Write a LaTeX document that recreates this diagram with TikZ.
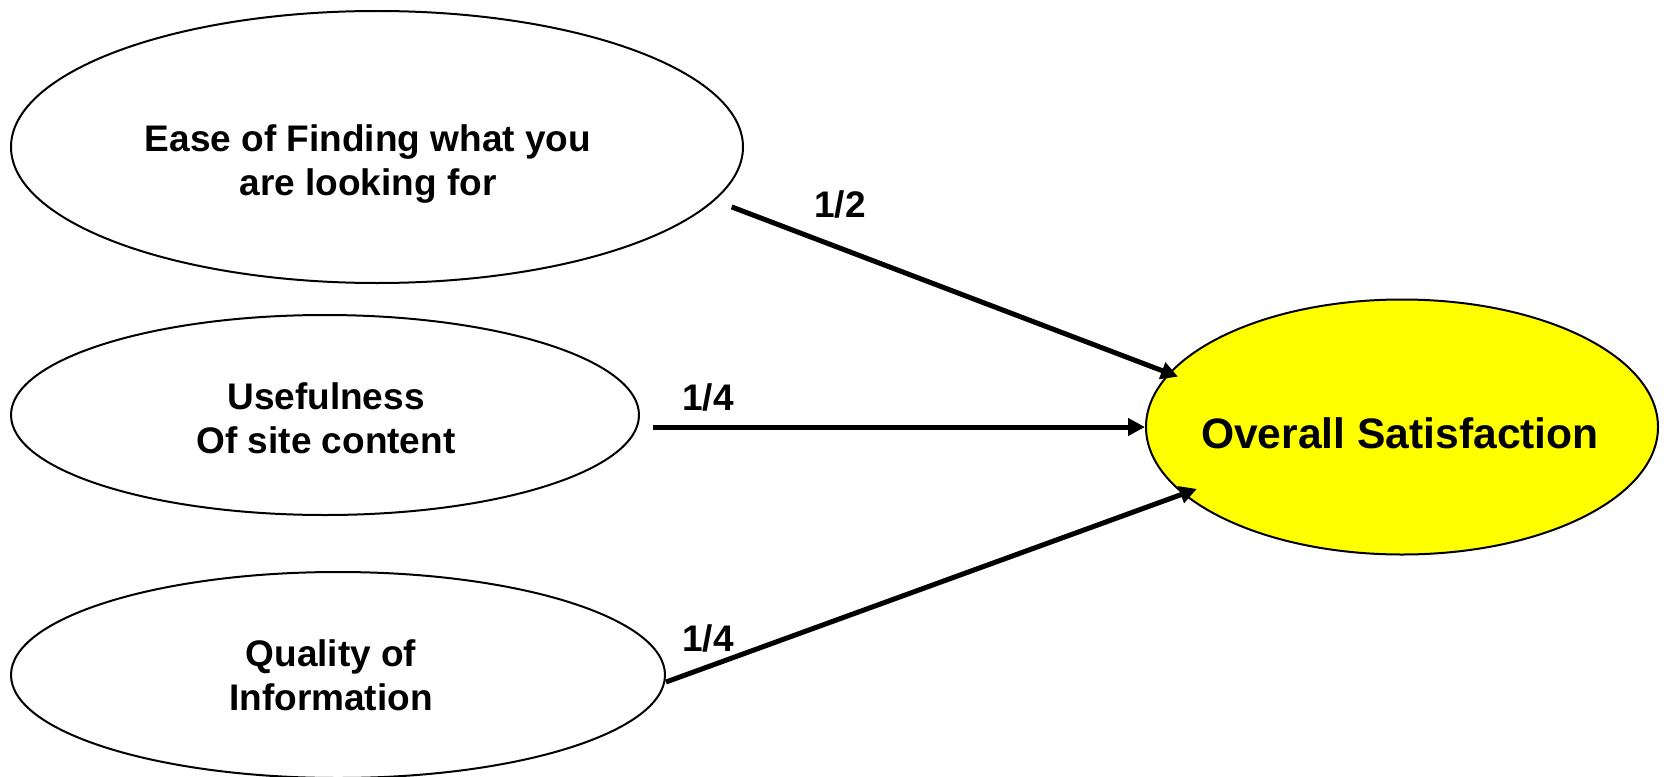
\documentclass[tikz,border=0pt]{standalone}
\usepackage{fontspec}
\setmainfont{Liberation Sans}
\usetikzlibrary{shapes.geometric,arrows.meta}
\definecolor{satyellow}{RGB}{255,255,0}
\begin{document}
\begin{tikzpicture}[x=1pt,y=-1pt,
  oval/.style={ellipse,draw=black,line width=2pt,inner sep=0pt},
  lbl/.style={font=\bfseries\fontsize{37}{44}\selectfont,align=center,inner sep=0pt},
  big/.style={font=\bfseries\fontsize{42.6}{50}\selectfont,inner sep=0pt},
  arr/.style={line width=5pt,-{Triangle[length=17pt,width=17pt]}},
]
\useasboundingbox (0,0) rectangle (1664,776);
\node[oval,minimum width=732pt,minimum height=272pt] (ease) at (377,147) {};
\node[lbl] (easetxt) at (368,164) {Ease of Finding what you\\are looking for};
\node[oval,minimum width=628pt,minimum height=200pt] (use) at (325,415) {};
\node[lbl] (usetxt) at (326,418) {Usefulness\\Of site content};
\node[oval,minimum width=654pt,minimum height=206pt] (qual) at (338,675) {};
\node[lbl] (qualtxt) at (331,675) {Quality of\\Information};
\node[oval,fill=satyellow,minimum width=512pt,minimum height=255pt] (sat) at (1402,427) {};
\node[big] (sattxt) at (1400,433) {Overall Satisfaction};
\draw[arr,shorten <=18pt,shorten >=-10pt] (ease.-9) -- (sat.167);
\draw[arr] ([xshift=13pt]use.east |- sat.west) -- (sat.west);
\draw[arr,shorten >=-15pt] ([yshift=-7pt]qual.east) -- (sat.197);
\node[lbl] (w1) at (840,204) {1/2};
\node[lbl] (w2) at (708,397) {1/4};
\node[lbl] (w3) at (708,638) {1/4};
\end{tikzpicture}
\end{document}
